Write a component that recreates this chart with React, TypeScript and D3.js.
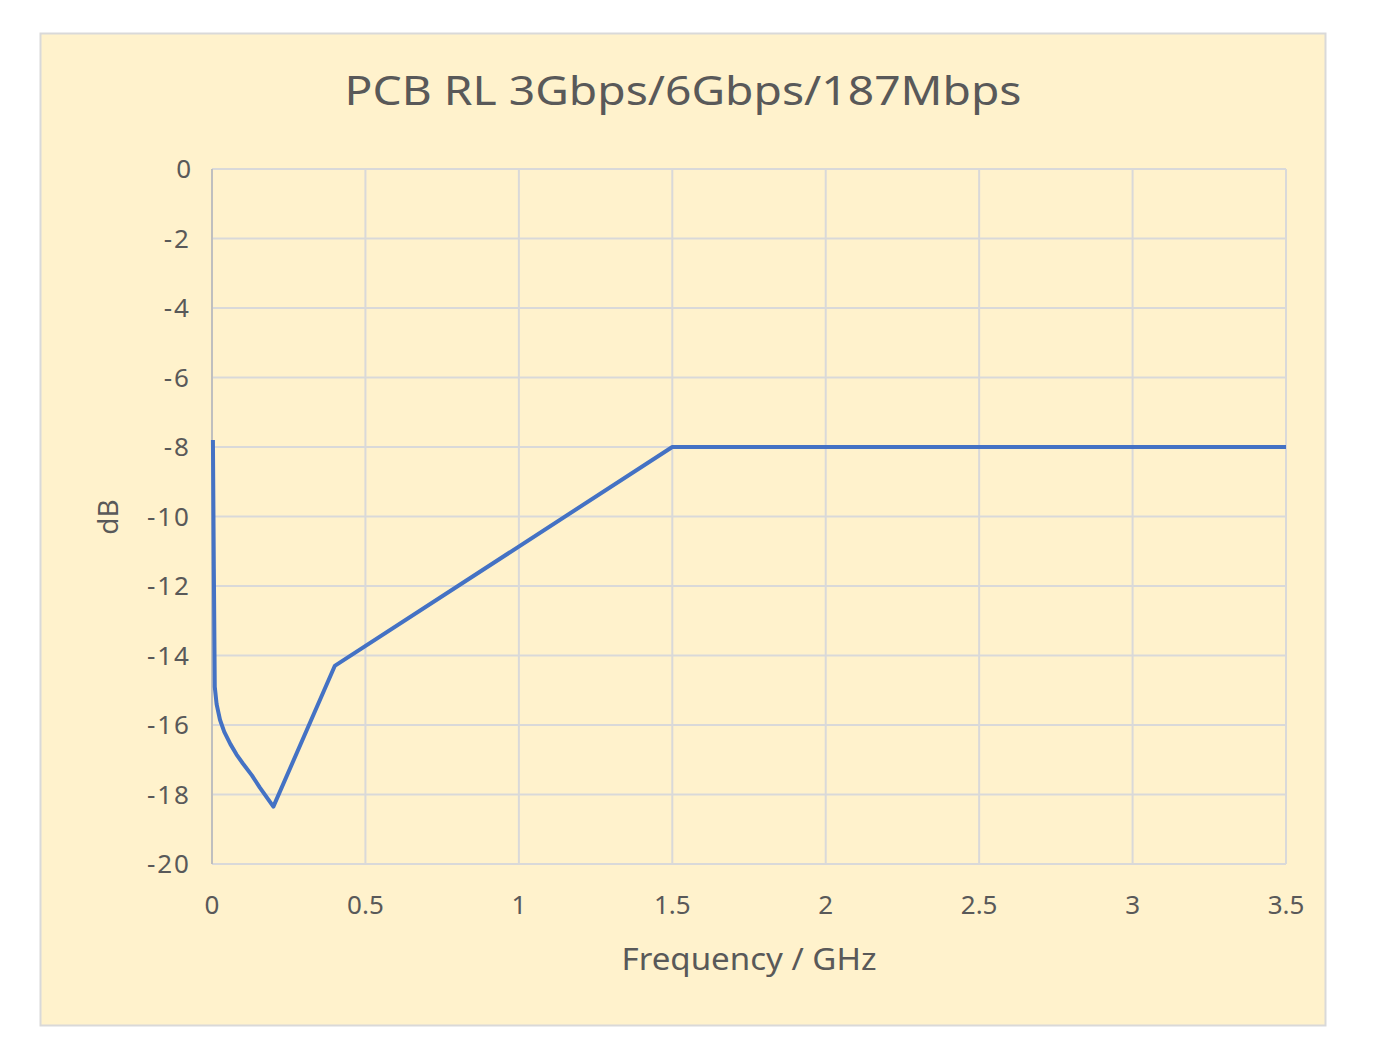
import React from "react";
import * as d3 from "d3";

const freqs = [0.003, 0.006, 0.009, 0.015, 0.026, 0.04, 0.06, 0.08, 0.1, 0.13, 0.156, 0.2, 0.4, 1.5, 3.5];
const rl = [-7.8, -11.5, -14.9, -15.4, -15.85, -16.2, -16.55, -16.85, -17.1, -17.45, -17.8, -18.35, -14.3, -8, -8];
const xTicks = [0, 0.5, 1, 1.5, 2, 2.5, 3, 3.5];
const yTicks = [0, -2, -4, -6, -8, -10, -12, -14, -16, -18, -20];
const title = "PCB RL 3Gbps/6Gbps/187Mbps";
const xTitle = "Frequency / GHz";
const yTitle = "dB";

export default function App() {
  const W = 1377, H = 1044;
  const left = 212, right = 1286, top = 169, bottom = 864;
  const x = d3.scaleLinear().domain([0, 3.5]).range([left, right]);
  const y = d3.scaleLinear().domain([-20, 0]).range([bottom, top]);
  const pts = freqs.map((f, i) => [f, rl[i]] as [number, number]);
  const line = d3.line<[number, number]>().x(d => x(d[0])).y(d => y(d[1])).curve(d3.curveLinear);
  const font = "'Noto Sans', sans-serif";
  const tc = "#595959";
  return (
    <svg width={W} height={H} style={{ position: "absolute", left: 0, top: 0 }}>
      <rect x={0} y={0} width={W} height={H} fill="#ffffff" />
      <rect x={40.5} y={33.5} width={1285} height={992} fill="#FFF2CC" stroke="#d9d9d9" strokeWidth={2} />
      <text x={683} y={105} textAnchor="middle" fontFamily={font} fontSize={40} fill={tc} textLength={677} lengthAdjust="spacingAndGlyphs">{title}</text>
      {yTicks.map(t => (
        <line key={"gy" + t} x1={left} x2={right} y1={y(t)} y2={y(t)} stroke="#d9d9d9" strokeWidth={2} />
      ))}
      {xTicks.map(t => (
        <line key={"gx" + t} x1={x(t)} x2={x(t)} y1={top} y2={bottom} stroke="#d9d9d9" strokeWidth={2} />
      ))}
      <line x1={left} x2={left} y1={top} y2={bottom} stroke="#bfbfbf" strokeWidth={2} />
      {yTicks.map(t => (
        <text key={"ty" + t} x={191} y={y(t) + 9} textAnchor="end" fontFamily={font} fontSize={26} fill={tc} letterSpacing={t < 0 ? 2 : 0}>{t < 0 ? "-" + Math.abs(t) : String(t)}</text>
      ))}
      {xTicks.map(t => (
        <text key={"tx" + t} x={x(t)} y={914} textAnchor="middle" fontFamily={font} fontSize={26} fill={tc}>{String(t)}</text>
      ))}
      <text x={749} y={970} textAnchor="middle" fontFamily={font} fontSize={30} fill={tc} textLength={255} lengthAdjust="spacingAndGlyphs">{xTitle}</text>
      <text transform={`translate(118,517) rotate(-90)`} textAnchor="middle" fontFamily={font} fontSize={28} fill={tc}>{yTitle}</text>
      <path d={line(pts) || ""} fill="none" stroke="#4472C4" strokeWidth={4} strokeLinejoin="round" />
    </svg>
  );
}
